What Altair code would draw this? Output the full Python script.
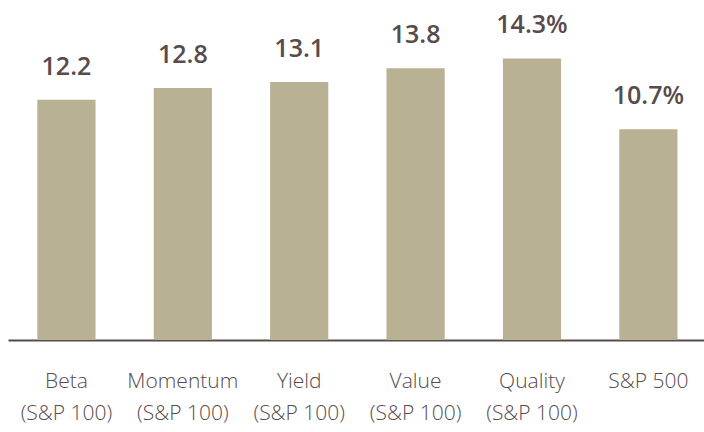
import altair as alt
import pandas as pd

categories = ["Beta|(S&P 100)", "Momentum|(S&P 100)", "Yield|(S&P 100)",
              "Value|(S&P 100)", "Quality|(S&P 100)", "S&P 500"]
values = [12.2, 12.8, 13.1, 13.8, 14.3, 10.7]
value_labels = ["12.2", "12.8", "13.1", "13.8", "14.3%", "10.7%"]

df = pd.DataFrame({"cat": categories, "val": values, "lab": value_labels})

BAR = "#b8b193"
INK = "#574b4b"

x = alt.X("cat:N", sort=categories, title=None,
          scale=alt.Scale(paddingInner=0.5, paddingOuter=0.24, align=0.525),
          axis=alt.Axis(labelExpr="split(datum.label, '|')", labelAngle=0,
                        labelFont="Open Sans", labelFontWeight=300, labelFontSize=21,
                        labelColor=INK, labelBaseline="alphabetic", labelPadding=47,
                        labelLineHeight=32, ticks=False, domainColor=INK,
                        domainWidth=2, grid=False))
y = alt.Y("val:Q", scale=alt.Scale(domain=[0, 16], nice=False), axis=None)

bars = alt.Chart(df).mark_bar(color=BAR).encode(x=x, y=y)
texts = alt.Chart(df).mark_text(font="Open Sans", fontWeight=600, fontSize=25,
                                color=INK, baseline="alphabetic", dy=-25).encode(
    x=alt.X("cat:N", sort=categories), y="val:Q", text="lab:N")

chart = alt.layer(bars, texts).properties(
    width=696, height=315,
    background="white",
    autosize=alt.AutoSizeParams(type="none"),
    padding={"left": 8, "top": 25, "right": 0, "bottom": 92},
).configure_view(stroke=None)

chart.save("out.html", embed_options={"renderer": "svg", "actions": False})
